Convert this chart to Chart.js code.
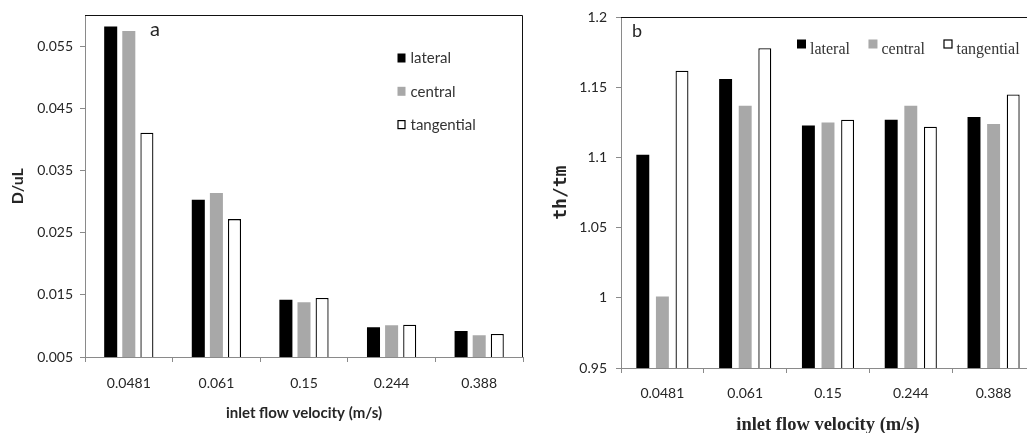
<!DOCTYPE html>
<html>
<head>
<meta charset="utf-8">
<script src="https://cdn.jsdelivr.net/npm/chart.js@4.4.0/dist/chart.umd.min.js"></script>
<style>
  body { margin: 0; background: #fff; overflow: hidden; width: 1027px; height: 433px; position: relative; }
  #chartA { position: absolute; left: 0; top: 0; }
  #chartB { position: absolute; left: 525px; top: 0; }
</style>
</head>
<body>
<canvas id="chartA" width="525" height="433"></canvas>
<canvas id="chartB" width="512" height="433"></canvas>
<script>
// categories shared by both panels
var categories = ["0.0481", "0.061", "0.15", "0.244", "0.388"];
var seriesNames = ["lateral", "central", "tangential"];

// panel a : D/uL
var lateralA = [0.0582, 0.0303, 0.0142, 0.0098, 0.0092];
var centralA = [0.0575, 0.0314, 0.0138, 0.0101, 0.0085];
var tangentialA = [0.0411, 0.0272, 0.0145, 0.0102, 0.0087];
var yTicksA = [0.005, 0.015, 0.025, 0.035, 0.045, 0.055];

// panel b : th/tm
var lateralB = [1.102, 1.156, 1.123, 1.127, 1.129];
var centralB = [1.001, 1.137, 1.125, 1.137, 1.124];
var tangentialB = [1.162, 1.178, 1.127, 1.122, 1.145];
var yTicksB = [0.95, 1, 1.05, 1.1, 1.15, 1.2];

var axisGrey = "#8a8a8a";
var textCol = "#262626";

// frame, panel letter and hand placed legend
var decor = {
  id: "decor",
  afterDraw: function (chart, args, opts) {
    var ctx = chart.ctx;
    var a = chart.chartArea;
    ctx.save();
    ctx.strokeStyle = "#111";
    ctx.lineWidth = 1;
    ctx.beginPath();
    ctx.moveTo(a.left, Math.round(a.top) + 0.5);
    ctx.lineTo(Math.round(a.right) - 0.5, Math.round(a.top) + 0.5);
    ctx.lineTo(Math.round(a.right) - 0.5, a.bottom);
    ctx.stroke();

    ctx.fillStyle = textCol;
    ctx.font = opts.letterFont;
    ctx.textBaseline = "alphabetic";
    ctx.textAlign = "left";
    ctx.fillText(opts.letter, opts.letterX, opts.letterY);

    var lg = opts.legend;
    ctx.font = lg.font;
    var x = lg.x, y = lg.y;
    chart.data.datasets.forEach(function (ds) {
      ctx.fillStyle = ds.backgroundColor;
      ctx.fillRect(x, y + lg.boxDy, lg.boxW, lg.boxH);
      if (ds.borderWidth) {
        ctx.strokeStyle = "#000";
        ctx.lineWidth = 1.2;
        ctx.strokeRect(x + 0.5, y + lg.boxDy + 0.5, lg.boxW - 1, lg.boxH - 1);
      }
      ctx.fillStyle = lg.color;
      ctx.textBaseline = lg.baseline;
      ctx.fillText(ds.label, x + lg.textDx, y);
      if (lg.row) {
        x += lg.textDx + ctx.measureText(ds.label).width + lg.gap;
      } else {
        y += lg.gap;
      }
    });
    ctx.restore();
  }
};

function makeDatasets(lat, cen, tan, cp, bp) {
  return [
    { label: seriesNames[0], data: lat, backgroundColor: "#000000", borderWidth: 0,
      categoryPercentage: cp, barPercentage: bp },
    { label: seriesNames[1], data: cen, backgroundColor: "#a8a8a8", borderWidth: 0,
      categoryPercentage: cp, barPercentage: bp },
    { label: seriesNames[2], data: tan, backgroundColor: "#ffffff", borderColor: "#000000",
      borderWidth: 1.3, categoryPercentage: cp, barPercentage: bp }
  ];
}

var ctxA = document.getElementById("chartA").getContext("2d");
var chartA = new Chart(ctxA, {
  type: "bar",
  data: { labels: categories, datasets: makeDatasets(lateralA, centralA, tangentialA, 0.62, 0.72) },
  options: {
    responsive: false,
    animation: false,
    layout: { padding: { left: 0, top: 13, right: 2, bottom: 0 } },
    plugins: {
      legend: { display: false },
      tooltip: { enabled: false },
      decor: {
        letter: "a", letterX: 150, letterY: 36, letterFont: "20px Lato",
        legend: { x: 397.5, y: 58.5, row: false, gap: 33.3, boxW: 8, boxH: 9, boxDy: -5,
          textDx: 13, font: "15px Lato", color: "#333", baseline: "middle" }
      }
    },
    scales: {
      x: {
        grid: { offset: true, drawOnChartArea: false, tickLength: 5, color: axisGrey },
        border: { color: axisGrey },
        ticks: { padding: 13, color: textCol, font: { family: "Lato", size: 14 } },
        title: { display: true, text: "inlet flow velocity (m/s)", color: textCol,
          font: { family: "Lato", size: 15, weight: "bold" }, padding: { top: 0, bottom: 11 } },
        afterFit: function (s) { s.height = 76; }
      },
      y: {
        min: 0.005,
        max: 0.06,
        afterBuildTicks: function (s) { s.ticks = yTicksA.map(function (v) { return { value: v }; }); },
        grid: { drawOnChartArea: false, tickLength: 5, color: axisGrey },
        border: { color: axisGrey },
        ticks: { padding: 7, color: textCol, font: { family: "Lato", size: 14 },
          callback: function (v) { return String(v); } },
        title: { display: true, text: "D/uL", color: textCol,
          font: { family: "Lato", size: 16, weight: "bold" }, padding: { top: 8, bottom: 0 } },
        afterFit: function (s) { s.width = 85; }
      }
    }
  },
  plugins: [decor]
});

var ctxB = document.getElementById("chartB").getContext("2d");
var chartB = new Chart(ctxB, {
  type: "bar",
  data: { labels: categories, datasets: makeDatasets(lateralB, centralB, tangentialB, 0.71, 0.66) },
  options: {
    responsive: false,
    animation: false,
    layout: { padding: { left: 0, top: 14, right: 2, bottom: 0 } },
    plugins: {
      legend: { display: false },
      tooltip: { enabled: false },
      decor: {
        letter: "b", letterX: 107, letterY: 37, letterFont: "18px Lato",
        legend: { x: 272, y: 54, row: true, gap: 18.5, boxW: 9, boxH: 9, boxDy: -14.5,
          textDx: 13, font: "16px 'Liberation Serif'", color: "#333", baseline: "alphabetic" }
      }
    },
    scales: {
      x: {
        grid: { offset: true, drawOnChartArea: false, tickLength: 5, color: axisGrey },
        border: { color: axisGrey },
        ticks: { padding: 12, color: textCol, font: { family: "Lato", size: 14 } },
        title: { display: true, text: "inlet flow velocity (m/s)", color: textCol,
          font: { family: "Liberation Serif", size: 18.5, weight: "bold", lineHeight: 1 },
          padding: { top: 0, bottom: -1 } },
        afterFit: function (s) { s.height = 65; }
      },
      y: {
        min: 0.95,
        max: 1.2,
        afterBuildTicks: function (s) { s.ticks = yTicksB.map(function (v) { return { value: v }; }); },
        grid: { drawOnChartArea: false, tickLength: 5, color: axisGrey },
        border: { color: axisGrey },
        ticks: { padding: 9, color: textCol, font: { family: "Lato", size: 14 },
          callback: function (v) { return String(v); } },
        title: { display: true, text: "th/tm", color: textCol,
          font: { family: "DejaVu Sans Mono", size: 18, weight: "bold" }, padding: { top: 26, bottom: 0 } },
        afterFit: function (s) { s.width = 96; }
      }
    }
  },
  plugins: [decor]
});
</script>
</body>
</html>
